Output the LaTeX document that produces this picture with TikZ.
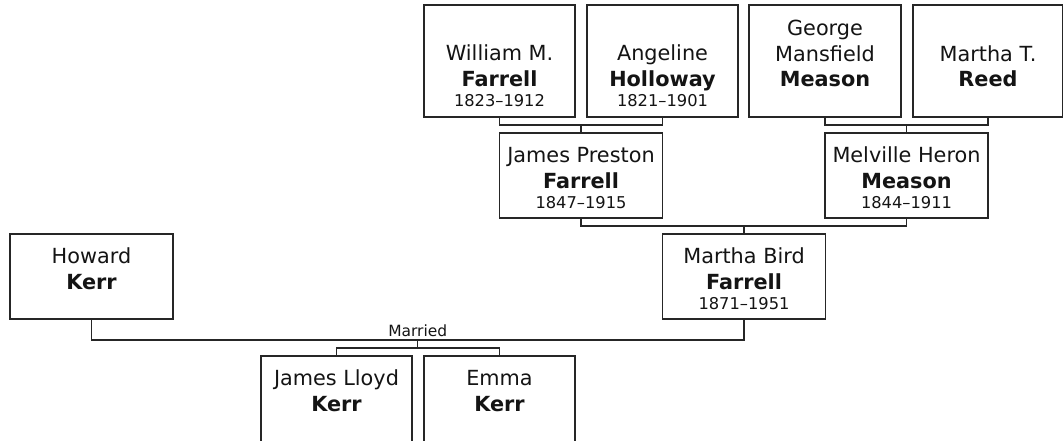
\documentclass[tikz,border=0pt]{standalone}
\usepackage{fontspec}
\setmainfont{DejaVu Sans}
\usetikzlibrary{calc}
\tikzset{
  pbox/.style={draw=black!85, line width=0.9pt, fill=white, rectangle, inner sep=0pt, outer sep=0pt, anchor=north west},
  link/.style={draw=black!85, line width=0.9pt},
  nm/.style={font=\fontsize{15.6}{18}\selectfont, anchor=base, inner sep=0pt, text=black!92},
  sn/.style={font=\fontsize{15.6}{18}\selectfont\bfseries, anchor=base, inner sep=0pt, text=black!92},
  dt/.style={font=\fontsize{12.2}{14}\selectfont, anchor=base, inner sep=0pt, text=black!92},
  lbl/.style={font=\fontsize{11.6}{14}\selectfont, anchor=base, inner sep=0pt, text=black!92},
}
\newcommand\mkbox[5]{\node[pbox, minimum width=#4*0.75pt, minimum height=#5*0.75pt] (#1) at (#2,#3) {};}
\newcommand\mktext[5]{\node[#2] (#1) at ($(#3.north)+(0,#4)$) {#5};}
\begin{document}
\begin{tikzpicture}[x=0.75pt,y=-0.75pt]
\useasboundingbox (0,0) rectangle (1063,440);
\clip (0,0) rectangle (1063,440);
% boxes
\mkbox{wf}{424}{5}{151}{112}
\mkbox{ah}{587}{5}{151}{112}
\mkbox{gm}{749}{5}{152}{112}
\mkbox{mr}{913}{5}{150}{112}
\mkbox{jpf}{499.5}{133}{163}{85}
\mkbox{mhm}{825}{133}{163}{85}
\mkbox{mbf}{662.5}{234}{163}{85}
\mkbox{hk}{10}{234}{163}{85}
\mkbox{jlk}{261}{356}{151}{112}
\mkbox{ek}{424}{356}{151}{112}
% texts
\mktext{wf1}{nm}{wf}{55}{William M.}
\mktext{wf2}{sn}{wf}{81}{Farrell}
\mktext{wf3}{dt}{wf}{101}{1823–1912}
\mktext{ah1}{nm}{ah}{55}{Angeline}
\mktext{ah2}{sn}{ah}{81}{Holloway}
\mktext{ah3}{dt}{ah}{101}{1821–1901}
\mktext{gm1}{nm}{gm}{30}{George}
\mktext{gm2}{nm}{gm}{56}{Mansfield}
\mktext{gm3}{sn}{gm}{81}{Meason}
\mktext{mr1}{nm}{mr}{56}{Martha T.}
\mktext{mr2}{sn}{mr}{81}{Reed}
\mktext{jpf1}{nm}{jpf}{29}{James Preston}
\mktext{jpf2}{sn}{jpf}{55}{Farrell}
\mktext{jpf3}{dt}{jpf}{75}{1847–1915}
\mktext{mhm1}{nm}{mhm}{29}{Melville Heron}
\mktext{mhm2}{sn}{mhm}{55}{Meason}
\mktext{mhm3}{dt}{mhm}{75}{1844–1911}
\mktext{mbf1}{nm}{mbf}{29}{Martha Bird}
\mktext{mbf2}{sn}{mbf}{55}{Farrell}
\mktext{mbf3}{dt}{mbf}{75}{1871–1951}
\mktext{hk1}{nm}{hk}{29}{Howard}
\mktext{hk2}{sn}{hk}{55}{Kerr}
\mktext{jlk1}{nm}{jlk}{29}{James Lloyd}
\mktext{jlk2}{sn}{jlk}{55}{Kerr}
\mktext{ek1}{nm}{ek}{29}{Emma}
\mktext{ek2}{sn}{ek}{55}{Kerr}
% connectors
\draw[link] (wf.south) -- ++(0,8) -| (ah.south);
\draw[link] (jpf.north) -- ++(0,-8);
\draw[link] (gm.south) -- ++(0,8) -| (mr.south);
\draw[link] (mhm.north) -- ++(0,-8);
\draw[link] (jpf.south) -- ++(0,8) -| (mhm.south);
\draw[link] (mbf.north) -- ++(0,-8);
\draw[link] (hk.south) -- ++(0,21) -| (mbf.south);
\coordinate (mid) at ($(hk.south)!0.5!(mbf.south)+(0,21)$);
\node[lbl] (married) at ($(mid)+(0,-3.5)$) {Married};
\draw[link] (mid) -- ++(0,8) coordinate (fork);
\draw[link] (jlk.north) -- ++(0,-8) -| (ek.north);
\end{tikzpicture}
\end{document}
